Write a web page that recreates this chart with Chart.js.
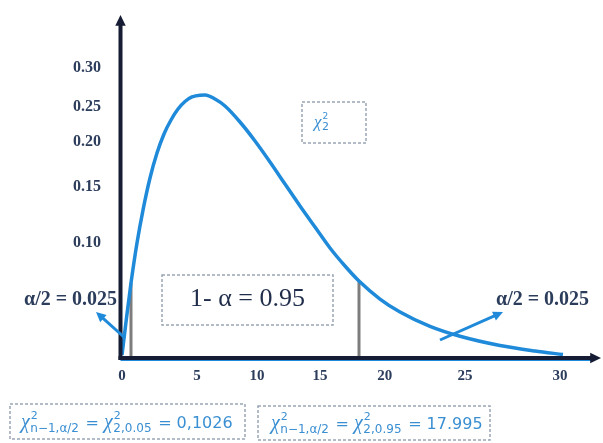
<!DOCTYPE html>
<html lang="fr">
<head>
  <meta charset="UTF-8" />
  <title>Loi du khi-deux</title>
  <script src="https://cdn.jsdelivr.net/npm/chart.js"></script>
  <style>
    * { box-sizing: border-box; margin: 0; padding: 0; }
    body { background: #fff; }
    .chart-container { width: 603px; height: 443px; position: relative; }
  </style>
</head>
<body>

<div class="chart-container">
  <canvas id="chiChart"></canvas>
</div>

<script>
  // courbe (unites du dessin)
  const curveX = [0, 0.274, 0.616, 1.027, 1.438, 1.918, 2.397, 2.877, 3.356, 3.836, 4.315, 4.795, 5.342, 5.685, 6.370, 7.055, 8.082, 9.110, 10.137, 11.164, 12.192, 13.219, 14.247, 15.274, 16.233, 17.671, 19.041, 21.096, 23.151, 25.890, 28.288, 30.205];
  const curveY = [0.0021, 0.0363, 0.0768, 0.1184, 0.1526, 0.1859, 0.2118, 0.2316, 0.2461, 0.2575, 0.2653, 0.2700, 0.2719, 0.2720, 0.2679, 0.2606, 0.2440, 0.2243, 0.2025, 0.1796, 0.1568, 0.1350, 0.1132, 0.0945, 0.0789, 0.0602, 0.0467, 0.0318, 0.0215, 0.0119, 0.0062, 0.0026];

  // bornes critiques (traits verticaux)
  const critX = [0.616, 16.233];
  const critY = [0.0768, 0.0789];

  // graduations : position sur l'axe et texte
  const xTickPos = [0, 5.14, 9.25, 13.56, 18.0, 23.5, 30];
  const xTickLabels = ["0", "5", "10", "15", "20", "25", "30"];
  const yTickPos = [0.119, 0.177, 0.223, 0.26, 0.30];
  const yTickLabels = ["0.10", "0.15", "0.20", "0.25", "0.30"];

  const blue = '#1f8ad9';
  const navy = '#2c3d5c';

  function dashedBox(ctx, x, y, w, h) {
    ctx.save();
    ctx.strokeStyle = '#9aa5b4';
    ctx.lineWidth = 1.5;
    ctx.setLineDash([3, 2]);
    ctx.strokeRect(x, y, w, h);
    ctx.restore();
  }

  function arrow(ctx, x1, y1, x2, y2, color, width, head) {
    const a = Math.atan2(y2 - y1, x2 - x1);
    ctx.save();
    ctx.strokeStyle = color;
    ctx.fillStyle = color;
    ctx.lineWidth = width;
    ctx.beginPath();
    ctx.moveTo(x1, y1);
    ctx.lineTo(x2 - Math.cos(a) * head * 0.8, y2 - Math.sin(a) * head * 0.8);
    ctx.stroke();
    ctx.beginPath();
    ctx.moveTo(x2, y2);
    ctx.lineTo(x2 - head * Math.cos(a - 0.45), y2 - head * Math.sin(a - 0.45));
    ctx.lineTo(x2 - head * Math.cos(a + 0.45), y2 - head * Math.sin(a + 0.45));
    ctx.closePath();
    ctx.fill();
    ctx.restore();
  }

  // chi carre avec exposant et indice
  function chi(ctx, x, y, sub, size) {
    ctx.font = 'italic ' + size + 'px "Liberation Serif"';
    ctx.fillText('χ', x, y);
    const w = ctx.measureText('χ').width;
    ctx.font = Math.round(size * 0.55) + 'px "DejaVu Sans"';
    ctx.fillText('2', x + w + 1, y - size * 0.45);
    ctx.font = Math.round(size * 0.62) + 'px "DejaVu Sans"';
    ctx.fillText(sub, x + w + 0.5, y + size * 0.18);
    return x + w + ctx.measureText(sub).width + 2;
  }

  function formula(ctx, x, y, sub1, sub2, value) {
    ctx.save();
    ctx.fillStyle = '#3a8fd2';
    ctx.textBaseline = 'alphabetic';
    let cx = chi(ctx, x, y, sub1, 20);
    ctx.font = '16px "DejaVu Sans"';
    ctx.fillText(' = ', cx, y);
    cx += ctx.measureText(' = ').width;
    cx = chi(ctx, cx, y, sub2, 20);
    ctx.font = '16px "DejaVu Sans"';
    ctx.fillText(' = ' + value, cx, y);
    ctx.restore();
  }

  const decorPlugin = {
    id: 'decor',
    afterDraw(chart) {
      const ctx = chart.ctx;
      const a = chart.chartArea;
      const x0 = a.left - 1.5;
      const y0 = a.bottom + 1;

      // axes avec fleches
      ctx.save();
      ctx.strokeStyle = blue;
      ctx.lineWidth = 2;
      ctx.beginPath();
      ctx.moveTo(x0, y0 + 2);
      ctx.lineTo(a.right - 8, y0 + 2);
      ctx.stroke();
      ctx.restore();
      arrow(ctx, x0, y0 + 2, x0, a.top - 3, '#151c33', 4, 12);
      arrow(ctx, x0 - 2, y0, a.right + 1, y0, '#151c33', 4, 12);

      // fleches alpha/2
      arrow(ctx, 125, 338, 96, 312, blue, 3, 11);
      arrow(ctx, 440, 340, 503, 312, blue, 3, 11);

      ctx.save();
      ctx.fillStyle = navy;
      ctx.textBaseline = 'middle';
      ctx.font = 'bold 20px "Liberation Serif"';
      ctx.textAlign = 'left';
      ctx.fillText('α/2 = 0.025', 24, 300);
      ctx.fillText('α/2 = 0.025', 496, 300);

      dashedBox(ctx, 162, 275, 171, 50);
      ctx.fillStyle = '#1f2d4a';
      ctx.font = '26px "Liberation Serif"';
      ctx.fillText('1- α = 0.95', 190, 299);
      ctx.restore();

      // legende chi deux
      dashedBox(ctx, 302, 102, 64, 41);
      ctx.save();
      ctx.fillStyle = '#3a8fd2';
      chi(ctx, 314, 127, '2', 17);
      ctx.restore();

      // valeurs critiques
      dashedBox(ctx, 10, 404, 235, 35);
      formula(ctx, 21, 428, 'n−1,α/2', '2,0.05', '0,1026');
      dashedBox(ctx, 258, 406, 232, 34);
      formula(ctx, 271, 429, 'n−1,α/2', '2,0.95', '17.995');
    }
  };

  const ctx = document.getElementById('chiChart').getContext('2d');

  const critSets = critX.map((cx, i) => ({
    data: [{ x: cx, y: 0 }, { x: cx, y: critY[i] }],
    showLine: true,
    borderColor: '#7d7d7d',
    borderWidth: 3,
    pointRadius: 0
  }));

  new Chart(ctx, {
    type: 'scatter',
    data: {
      datasets: [{
        data: curveX.map((x, i) => ({ x: x, y: curveY[i] })),
        showLine: true,
        borderColor: blue,
        borderWidth: 3.5,
        pointRadius: 0,
        cubicInterpolationMode: 'monotone'
      }].concat(critSets)
    },
    options: {
      responsive: true,
      maintainAspectRatio: false,
      animation: false,
      layout: { padding: { left: 0, top: 18, right: 3, bottom: 56 } },
      plugins: {
        legend: { display: false },
        tooltip: { enabled: false }
      },
      scales: {
        x: {
          type: 'linear',
          min: 0,
          max: 32.74,
          grid: { display: false, drawTicks: false },
          border: { display: false },
          afterBuildTicks: s => { s.ticks = xTickPos.map(v => ({ value: v })); },
          afterFit: s => { s.height = 30; s.paddingLeft = 0; s.paddingRight = 0; },
          ticks: {
            autoSkip: false,
            maxRotation: 0,
            padding: 10,
            color: navy,
            font: { family: 'Liberation Serif', size: 15, weight: 'bold' },
            callback: (v, i) => xTickLabels[i]
          }
        },
        y: {
          type: 'linear',
          min: 0,
          max: 0.352,
          grid: { display: false, drawTicks: false },
          border: { display: false },
          afterBuildTicks: s => { s.ticks = yTickPos.map(v => ({ value: v })); },
          afterFit: s => { s.width = 122; s.paddingTop = 0; s.paddingBottom = 0; },
          ticks: {
            autoSkip: false,
            padding: 21,
            color: navy,
            font: { family: 'Liberation Serif', size: 16, weight: 'bold' },
            callback: (v, i) => yTickLabels[i]
          }
        }
      }
    },
    plugins: [decorPlugin]
  });
</script>

</body>
</html>
